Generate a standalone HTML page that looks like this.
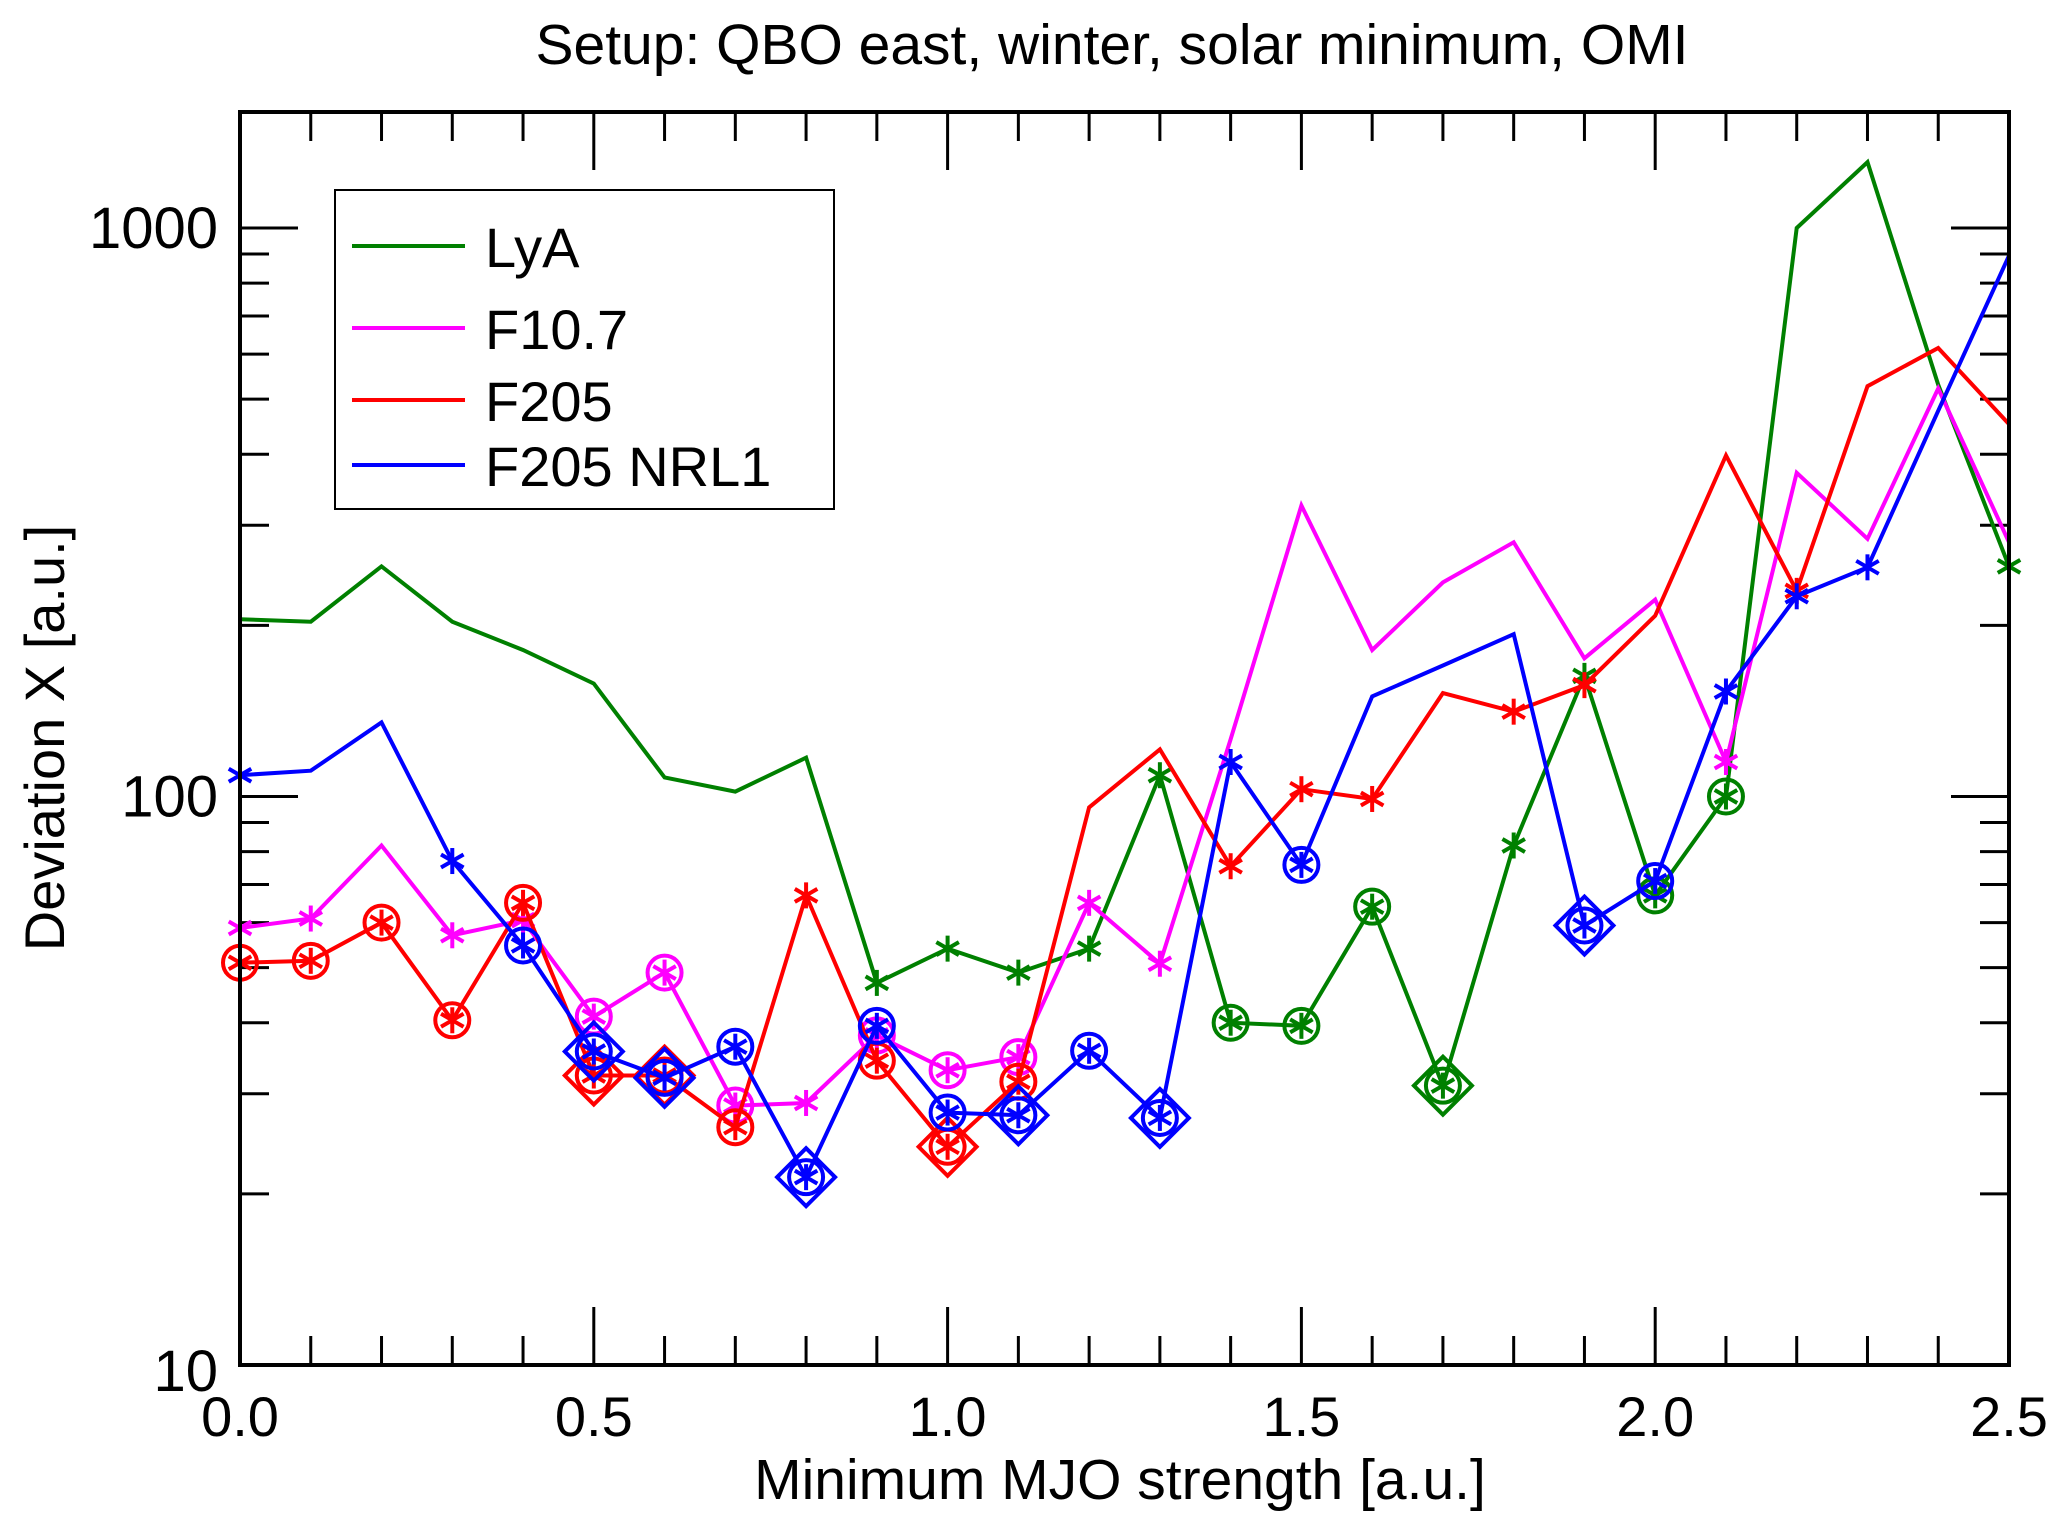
<!DOCTYPE html>
<html><head><meta charset="utf-8">
<style>
html,body{margin:0;padding:0;background:#fff;}
svg{display:block;font-family:"Liberation Sans",Arial,sans-serif;}
</style></head>
<body>
<svg id="chart" width="2067" height="1528" viewBox="0 0 2067 1528" xmlns="http://www.w3.org/2000/svg">
<rect x="0" y="0" width="2067" height="1528" fill="#fff"/>
<text x="1112" y="64" font-size="57" text-anchor="middle">Setup: QBO east, winter, solar minimum, OMI</text>
<text x="1120" y="1499" font-size="57" text-anchor="middle">Minimum MJO strength [a.u.]</text>
<text x="0" y="0" font-size="56" text-anchor="middle" transform="translate(64,738) rotate(-90)">Deviation X [a.u.]</text>
<g id="ticks"></g>
<g id="series"></g>
<rect x="240" y="112" width="1769" height="1253" fill="none" stroke="#000" stroke-width="4"/>
<g id="legend">
<rect x="335" y="190" width="499" height="319" fill="#fff" stroke="#000" stroke-width="2"/>
</g>
</svg>
<script>
const xValues=[0,0.1,0.2,0.3,0.4,0.5,0.6,0.7,0.8,0.9,1.0,1.1,1.2,1.3,1.4,1.5,1.6,1.7,1.8,1.9,2.0,2.1,2.2,2.3,2.4,2.5];
const lyaValues=[205,203,254,203,181,158,108,102,117,47,54,49,54,109,40,39.5,64,31,82,163,67,100,1000,1306,530,254];
const f107Values=[58.7,61,82,57,60.6,41,49,28.6,28.9,38,33,34.8,65,50.8,126,325,181,238,280,175,222,115,371,284,522,280];
const f205Values=[51,51.4,60,40.4,65,32.3,32.3,26.2,67,34.3,24.2,31.5,95.7,121,75.4,103,99,152,141,157,208,398,230,527,615,452];
const nrlValues=[109,111,135,77,54.7,35.6,32,36.3,21.4,39.5,27.8,27.5,35.7,27.2,115,75.8,150,170,193,59.3,71,153,225,253,477,894];
// marker codes: 0 none, 1 star, 2 star+circle, 3 star+circle+diamond
const lyaMarks=[0,0,0,0,0,0,0,0,0,1,1,1,1,1,2,2,2,3,1,1,2,2,0,0,0,1];
const f107Marks=[1,1,0,1,1,2,2,2,1,2,2,2,1,1,0,0,0,0,0,0,0,1,0,0,0,0];
const f205Marks=[2,2,2,2,2,3,3,2,1,2,3,2,0,0,1,1,1,0,1,1,0,0,1,0,0,0];
const nrlMarks=[1,0,0,1,2,3,3,2,3,2,2,3,2,3,1,2,0,0,0,3,2,1,1,1,0,0];
const seriesNames=["LyA","F10.7","F205","F205 NRL1"];
const seriesColors=["#008000","#ff00ff","#ff0000","#0000ff"];
const xTickLabels=["0.0","0.5","1.0","1.5","2.0","2.5"];
const yTickLabels=["10","100","1000"];

const NS="http://www.w3.org/2000/svg";
const L=240,R=2009,B=1365,T=112;
const xs=v=>L+(v/2.5)*(R-L);
const ys=v=>B-(Math.log10(v)-1)*568.5;
function mk(tag,attrs,parent){const e=document.createElementNS(NS,tag);for(const k in attrs)e.setAttribute(k,attrs[k]);parent.appendChild(e);return e;}

const tg=document.getElementById('ticks');
for(let i=0;i<=25;i++){
  const x=xs(i*0.1);const len=(i%5===0)?58:29;
  let t=mk('line',{x1:x,x2:x,y1:B,y2:B-len,stroke:'#000','stroke-width':3},tg);
  
  
  t=mk('line',{x1:x,x2:x,y1:T,y2:T+len,stroke:'#000','stroke-width':3},tg);
  
  
}
xTickLabels.forEach((lab,i)=>{
  const t=mk('text',{x:xs(i*0.5),y:1436,'font-size':56,'text-anchor':'middle'},tg);
  t.textContent=lab;
  
  
});
for(let d=1;d<=3;d++){
  for(let m=1;m<=9;m++){
    const v=Math.pow(10,d)*m;const y=ys(v);
    if(y<T-1)continue;
    const len=(m===1)?58:29;
    let t=mk('line',{x1:L,x2:L+len,y1:y,y2:y,stroke:'#000','stroke-width':3},tg);
    
    
    t=mk('line',{x1:R,x2:R-len,y1:y,y2:y,stroke:'#000','stroke-width':3},tg);
    
    
  }
}
yTickLabels.forEach((lab,i)=>{
  const v=Math.pow(10,i+1);
  const t=mk('text',{x:218,y:ys(v)+(i===0?26:20),'font-size':58,'text-anchor':'end'},tg);
  t.textContent=lab;
  
  
});

const sg=document.getElementById('series');
const allVals=[lyaValues,f107Values,f205Values,nrlValues];
const allMarks=[lyaMarks,f107Marks,f205Marks,nrlMarks];
allVals.forEach((vals,si)=>{
  const c=seriesColors[si];
  const g=mk('g',{},sg);
  
  
  const pts=vals.map((v,i)=>xs(xValues[i]).toFixed(1)+','+ys(v).toFixed(1)).join(' ');
  const pl=mk('polyline',{points:pts,fill:'none',stroke:c,'stroke-width':4,'stroke-linejoin':'miter'},g);
  
  
  vals.forEach((v,i)=>{
    const m=allMarks[si][i];if(!m)return;
    const x=xs(xValues[i]),y=ys(v);
    const mg=mk('g',{stroke:c,'stroke-width':4,fill:'none'},g);
    
    
    const r=13;
    for(let a=0;a<3;a++){const ang=Math.PI/2+a*Math.PI/3;
      mk('line',{x1:x+r*Math.cos(ang),y1:y-r*Math.sin(ang),x2:x-r*Math.cos(ang),y2:y+r*Math.sin(ang)},mg);}
    if(m>=2)mk('circle',{cx:x,cy:y,r:17},mg);
    if(m>=3)mk('polygon',{points:`${x},${y-29} ${x+29},${y} ${x},${y+29} ${x-29},${y}`},mg);
  });
});

const lg=document.getElementById('legend');
const ly=[246,328,400,465];
seriesNames.forEach((n,i)=>{
  const e=mk('line',{x1:352,x2:465,y1:ly[i],y2:ly[i],stroke:seriesColors[i],'stroke-width':4},lg);
  
  
  const t=mk('text',{x:485,y:ly[i]+21,'font-size':56},lg);
  t.textContent=n;
  
  
});
</script>
</body></html>
